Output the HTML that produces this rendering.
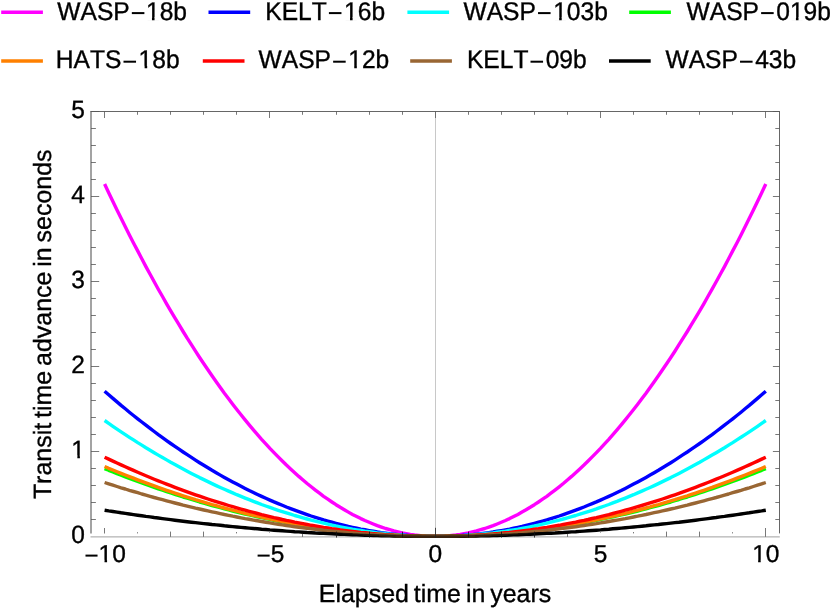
<!DOCTYPE html>
<html><head><meta charset="utf-8"><title>Transit time advance</title>
<style>
html,body{margin:0;padding:0;background:#fff;}
svg{display:block;will-change:transform;}
text{font-family:"Liberation Sans",sans-serif;fill:#000;font-kerning:none;text-rendering:geometricPrecision;stroke:#000;stroke-width:0.35px;}
.cv polyline{fill:none;stroke-width:3.4;stroke-linejoin:round;}
</style></head>
<body>
<svg width="830" height="609" viewBox="0 0 830 609">
<rect width="830" height="609" fill="#fff"/>
<!-- centre grid line -->
<line x1="435.5" y1="111.5" x2="435.5" y2="536.4" stroke="#c2c2c2" stroke-width="0.9"/>
<!-- bottom axis (light) -->
<line x1="90.5" y1="536.9" x2="779.8" y2="536.9" stroke="#a0a0a0" stroke-width="1"/>
<!-- curves -->
<g class="cv">
<polyline stroke="#ff00ff" points="104.6,184.0 108.7,192.7 112.9,201.4 117.0,209.9 121.1,218.3 125.3,226.7 129.4,234.9 133.5,243.0 137.7,250.9 141.8,258.8 145.9,266.6 150.1,274.2 154.2,281.8 158.3,289.2 162.5,296.5 166.6,303.8 170.7,310.9 174.9,317.9 179.0,324.7 183.1,331.5 187.2,338.2 191.4,344.7 195.5,351.2 199.6,357.5 203.8,363.7 207.9,369.8 212.0,375.8 216.2,381.7 220.3,387.5 224.4,393.2 228.6,398.7 232.7,404.2 236.8,409.5 241.0,414.8 245.1,419.9 249.2,424.9 253.4,429.8 257.5,434.6 261.6,439.3 265.8,443.8 269.9,448.3 274.0,452.6 278.2,456.9 282.3,461.0 286.4,465.0 290.6,468.9 294.7,472.7 298.8,476.4 303.0,480.0 307.1,483.5 311.2,486.8 315.4,490.1 319.5,493.2 323.6,496.3 327.8,499.2 331.9,502.0 336.0,504.7 340.2,507.3 344.3,509.7 348.4,512.1 352.5,514.4 356.7,516.5 360.8,518.6 364.9,520.5 369.1,522.3 373.2,524.0 377.3,525.6 381.5,527.1 385.6,528.5 389.7,529.7 393.9,530.9 398.0,531.9 402.1,532.9 406.3,533.7 410.4,534.4 414.5,535.0 418.7,535.5 422.8,535.9 426.9,536.2 431.1,536.3 435.2,536.4 439.3,536.3 443.5,536.2 447.6,535.9 451.7,535.5 455.9,535.0 460.0,534.4 464.1,533.7 468.3,532.9 472.4,531.9 476.5,530.9 480.7,529.7 484.8,528.5 488.9,527.1 493.1,525.6 497.2,524.0 501.3,522.3 505.5,520.5 509.6,518.6 513.7,516.5 517.9,514.4 522.0,512.1 526.1,509.7 530.2,507.3 534.4,504.7 538.5,502.0 542.6,499.2 546.8,496.3 550.9,493.2 555.0,490.1 559.2,486.8 563.3,483.5 567.4,480.0 571.6,476.4 575.7,472.7 579.8,468.9 584.0,465.0 588.1,461.0 592.2,456.9 596.4,452.6 600.5,448.3 604.6,443.8 608.8,439.3 612.9,434.6 617.0,429.8 621.2,424.9 625.3,419.9 629.4,414.8 633.6,409.5 637.7,404.2 641.8,398.7 646.0,393.2 650.1,387.5 654.2,381.7 658.4,375.8 662.5,369.8 666.6,363.7 670.8,357.5 674.9,351.2 679.0,344.7 683.1,338.2 687.3,331.5 691.4,324.7 695.5,317.9 699.7,310.9 703.8,303.8 707.9,296.5 712.1,289.2 716.2,281.8 720.3,274.2 724.5,266.6 728.6,258.8 732.7,250.9 736.9,243.0 741.0,234.9 745.1,226.7 749.3,218.3 753.4,209.9 757.5,201.4 761.7,192.7 765.8,184.0"/>
<polyline stroke="#0000ff" points="104.6,391.2 108.7,394.8 112.9,398.4 117.0,401.9 121.1,405.4 125.3,408.8 129.4,412.2 133.5,415.5 137.7,418.8 141.8,422.0 145.9,425.2 150.1,428.4 154.2,431.5 158.3,434.6 162.5,437.6 166.6,440.6 170.7,443.5 174.9,446.4 179.0,449.2 183.1,452.0 187.2,454.7 191.4,457.4 195.5,460.1 199.6,462.7 203.8,465.3 207.9,467.8 212.0,470.3 216.2,472.7 220.3,475.1 224.4,477.4 228.6,479.7 232.7,481.9 236.8,484.1 241.0,486.3 245.1,488.4 249.2,490.5 253.4,492.5 257.5,494.5 261.6,496.4 265.8,498.3 269.9,500.1 274.0,501.9 278.2,503.6 282.3,505.3 286.4,507.0 290.6,508.6 294.7,510.2 298.8,511.7 303.0,513.2 307.1,514.6 311.2,516.0 315.4,517.3 319.5,518.6 323.6,519.9 327.8,521.1 331.9,522.2 336.0,523.3 340.2,524.4 344.3,525.4 348.4,526.4 352.5,527.3 356.7,528.2 360.8,529.1 364.9,529.8 369.1,530.6 373.2,531.3 377.3,532.0 381.5,532.6 385.6,533.1 389.7,533.7 393.9,534.1 398.0,534.6 402.1,534.9 406.3,535.3 410.4,535.6 414.5,535.8 418.7,536.0 422.8,536.2 426.9,536.3 431.1,536.4 435.2,536.4 439.3,536.4 443.5,536.3 447.6,536.2 451.7,536.0 455.9,535.8 460.0,535.6 464.1,535.3 468.3,534.9 472.4,534.6 476.5,534.1 480.7,533.7 484.8,533.1 488.9,532.6 493.1,532.0 497.2,531.3 501.3,530.6 505.5,529.8 509.6,529.1 513.7,528.2 517.9,527.3 522.0,526.4 526.1,525.4 530.2,524.4 534.4,523.3 538.5,522.2 542.6,521.1 546.8,519.9 550.9,518.6 555.0,517.3 559.2,516.0 563.3,514.6 567.4,513.2 571.6,511.7 575.7,510.2 579.8,508.6 584.0,507.0 588.1,505.3 592.2,503.6 596.4,501.9 600.5,500.1 604.6,498.3 608.8,496.4 612.9,494.5 617.0,492.5 621.2,490.5 625.3,488.4 629.4,486.3 633.6,484.1 637.7,481.9 641.8,479.7 646.0,477.4 650.1,475.1 654.2,472.7 658.4,470.3 662.5,467.8 666.6,465.3 670.8,462.7 674.9,460.1 679.0,457.4 683.1,454.7 687.3,452.0 691.4,449.2 695.5,446.4 699.7,443.5 703.8,440.6 707.9,437.6 712.1,434.6 716.2,431.5 720.3,428.4 724.5,425.2 728.6,422.0 732.7,418.8 736.9,415.5 741.0,412.2 745.1,408.8 749.3,405.4 753.4,401.9 757.5,398.4 761.7,394.8 765.8,391.2"/>
<polyline stroke="#00ffff" points="104.6,420.5 108.7,423.4 112.9,426.3 117.0,429.1 121.1,431.8 125.3,434.6 129.4,437.3 133.5,439.9 137.7,442.6 141.8,445.1 145.9,447.7 150.1,450.2 154.2,452.7 158.3,455.1 162.5,457.5 166.6,459.9 170.7,462.3 174.9,464.6 179.0,466.8 183.1,469.0 187.2,471.2 191.4,473.4 195.5,475.5 199.6,477.6 203.8,479.6 207.9,481.6 212.0,483.6 216.2,485.6 220.3,487.5 224.4,489.3 228.6,491.1 232.7,492.9 236.8,494.7 241.0,496.4 245.1,498.1 249.2,499.7 253.4,501.4 257.5,502.9 261.6,504.5 265.8,506.0 269.9,507.4 274.0,508.9 278.2,510.3 282.3,511.6 286.4,512.9 290.6,514.2 294.7,515.5 298.8,516.7 303.0,517.9 307.1,519.0 311.2,520.1 315.4,521.2 319.5,522.2 323.6,523.2 327.8,524.2 331.9,525.1 336.0,526.0 340.2,526.8 344.3,527.6 348.4,528.4 352.5,529.2 356.7,529.9 360.8,530.5 364.9,531.2 369.1,531.8 373.2,532.3 377.3,532.9 381.5,533.3 385.6,533.8 389.7,534.2 393.9,534.6 398.0,534.9 402.1,535.2 406.3,535.5 410.4,535.7 414.5,535.9 418.7,536.1 422.8,536.2 426.9,536.3 431.1,536.4 435.2,536.4 439.3,536.4 443.5,536.3 447.6,536.2 451.7,536.1 455.9,535.9 460.0,535.7 464.1,535.5 468.3,535.2 472.4,534.9 476.5,534.6 480.7,534.2 484.8,533.8 488.9,533.3 493.1,532.9 497.2,532.3 501.3,531.8 505.5,531.2 509.6,530.5 513.7,529.9 517.9,529.2 522.0,528.4 526.1,527.6 530.2,526.8 534.4,526.0 538.5,525.1 542.6,524.2 546.8,523.2 550.9,522.2 555.0,521.2 559.2,520.1 563.3,519.0 567.4,517.9 571.6,516.7 575.7,515.5 579.8,514.2 584.0,512.9 588.1,511.6 592.2,510.3 596.4,508.9 600.5,507.4 604.6,506.0 608.8,504.5 612.9,502.9 617.0,501.4 621.2,499.7 625.3,498.1 629.4,496.4 633.6,494.7 637.7,492.9 641.8,491.1 646.0,489.3 650.1,487.5 654.2,485.6 658.4,483.6 662.5,481.6 666.6,479.6 670.8,477.6 674.9,475.5 679.0,473.4 683.1,471.2 687.3,469.0 691.4,466.8 695.5,464.6 699.7,462.3 703.8,459.9 707.9,457.5 712.1,455.1 716.2,452.7 720.3,450.2 724.5,447.7 728.6,445.1 732.7,442.6 736.9,439.9 741.0,437.3 745.1,434.6 749.3,431.8 753.4,429.1 757.5,426.3 761.7,423.4 765.8,420.5"/>
<polyline stroke="#00ff00" points="104.6,468.6 108.7,470.3 112.9,471.9 117.0,473.6 121.1,475.2 125.3,476.8 129.4,478.4 133.5,479.9 137.7,481.5 141.8,483.0 145.9,484.5 150.1,485.9 154.2,487.4 158.3,488.8 162.5,490.2 166.6,491.6 170.7,493.0 174.9,494.3 179.0,495.7 183.1,497.0 187.2,498.2 191.4,499.5 195.5,500.7 199.6,502.0 203.8,503.2 207.9,504.3 212.0,505.5 216.2,506.6 220.3,507.7 224.4,508.8 228.6,509.9 232.7,511.0 236.8,512.0 241.0,513.0 245.1,514.0 249.2,514.9 253.4,515.9 257.5,516.8 261.6,517.7 265.8,518.6 269.9,519.4 274.0,520.3 278.2,521.1 282.3,521.9 286.4,522.7 290.6,523.4 294.7,524.1 298.8,524.9 303.0,525.5 307.1,526.2 311.2,526.9 315.4,527.5 319.5,528.1 323.6,528.7 327.8,529.2 331.9,529.8 336.0,530.3 340.2,530.8 344.3,531.3 348.4,531.7 352.5,532.2 356.7,532.6 360.8,533.0 364.9,533.3 369.1,533.7 373.2,534.0 377.3,534.3 381.5,534.6 385.6,534.9 389.7,535.1 393.9,535.3 398.0,535.5 402.1,535.7 406.3,535.9 410.4,536.0 414.5,536.1 418.7,536.2 422.8,536.3 426.9,536.4 431.1,536.4 435.2,536.4 439.3,536.4 443.5,536.4 447.6,536.3 451.7,536.2 455.9,536.1 460.0,536.0 464.1,535.9 468.3,535.7 472.4,535.5 476.5,535.3 480.7,535.1 484.8,534.9 488.9,534.6 493.1,534.3 497.2,534.0 501.3,533.7 505.5,533.3 509.6,533.0 513.7,532.6 517.9,532.2 522.0,531.7 526.1,531.3 530.2,530.8 534.4,530.3 538.5,529.8 542.6,529.2 546.8,528.7 550.9,528.1 555.0,527.5 559.2,526.9 563.3,526.2 567.4,525.5 571.6,524.9 575.7,524.1 579.8,523.4 584.0,522.7 588.1,521.9 592.2,521.1 596.4,520.3 600.5,519.4 604.6,518.6 608.8,517.7 612.9,516.8 617.0,515.9 621.2,514.9 625.3,514.0 629.4,513.0 633.6,512.0 637.7,511.0 641.8,509.9 646.0,508.8 650.1,507.7 654.2,506.6 658.4,505.5 662.5,504.3 666.6,503.2 670.8,502.0 674.9,500.7 679.0,499.5 683.1,498.2 687.3,497.0 691.4,495.7 695.5,494.3 699.7,493.0 703.8,491.6 707.9,490.2 712.1,488.8 716.2,487.4 720.3,485.9 724.5,484.5 728.6,483.0 732.7,481.5 736.9,479.9 741.0,478.4 745.1,476.8 749.3,475.2 753.4,473.6 757.5,471.9 761.7,470.3 765.8,468.6"/>
<polyline stroke="#ff8000" points="104.6,466.5 108.7,468.3 112.9,470.0 117.0,471.7 121.1,473.3 125.3,475.0 129.4,476.6 133.5,478.2 137.7,479.8 141.8,481.4 145.9,482.9 150.1,484.4 154.2,485.9 158.3,487.4 162.5,488.8 166.6,490.3 170.7,491.7 174.9,493.1 179.0,494.4 183.1,495.8 187.2,497.1 191.4,498.4 195.5,499.7 199.6,500.9 203.8,502.2 207.9,503.4 212.0,504.6 216.2,505.7 220.3,506.9 224.4,508.0 228.6,509.1 232.7,510.2 236.8,511.2 241.0,512.3 245.1,513.3 249.2,514.3 253.4,515.3 257.5,516.2 261.6,517.1 265.8,518.0 269.9,518.9 274.0,519.8 278.2,520.6 282.3,521.5 286.4,522.3 290.6,523.0 294.7,523.8 298.8,524.5 303.0,525.2 307.1,525.9 311.2,526.6 315.4,527.2 319.5,527.8 323.6,528.4 327.8,529.0 331.9,529.6 336.0,530.1 340.2,530.6 344.3,531.1 348.4,531.6 352.5,532.0 356.7,532.5 360.8,532.9 364.9,533.2 369.1,533.6 373.2,533.9 377.3,534.3 381.5,534.6 385.6,534.8 389.7,535.1 393.9,535.3 398.0,535.5 402.1,535.7 406.3,535.9 410.4,536.0 414.5,536.1 418.7,536.2 422.8,536.3 426.9,536.4 431.1,536.4 435.2,536.4 439.3,536.4 443.5,536.4 447.6,536.3 451.7,536.2 455.9,536.1 460.0,536.0 464.1,535.9 468.3,535.7 472.4,535.5 476.5,535.3 480.7,535.1 484.8,534.8 488.9,534.6 493.1,534.3 497.2,533.9 501.3,533.6 505.5,533.2 509.6,532.9 513.7,532.5 517.9,532.0 522.0,531.6 526.1,531.1 530.2,530.6 534.4,530.1 538.5,529.6 542.6,529.0 546.8,528.4 550.9,527.8 555.0,527.2 559.2,526.6 563.3,525.9 567.4,525.2 571.6,524.5 575.7,523.8 579.8,523.0 584.0,522.3 588.1,521.5 592.2,520.6 596.4,519.8 600.5,518.9 604.6,518.0 608.8,517.1 612.9,516.2 617.0,515.3 621.2,514.3 625.3,513.3 629.4,512.3 633.6,511.2 637.7,510.2 641.8,509.1 646.0,508.0 650.1,506.9 654.2,505.7 658.4,504.6 662.5,503.4 666.6,502.2 670.8,500.9 674.9,499.7 679.0,498.4 683.1,497.1 687.3,495.8 691.4,494.4 695.5,493.1 699.7,491.7 703.8,490.3 707.9,488.8 712.1,487.4 716.2,485.9 720.3,484.4 724.5,482.9 728.6,481.4 732.7,479.8 736.9,478.2 741.0,476.6 745.1,475.0 749.3,473.3 753.4,471.7 757.5,470.0 761.7,468.3 765.8,466.5"/>
<polyline stroke="#ff0000" points="104.6,457.2 108.7,459.1 112.9,461.1 117.0,463.0 121.1,464.9 125.3,466.8 129.4,468.6 133.5,470.4 137.7,472.2 141.8,474.0 145.9,475.7 150.1,477.5 154.2,479.2 158.3,480.8 162.5,482.5 166.6,484.1 170.7,485.7 174.9,487.3 179.0,488.8 183.1,490.3 187.2,491.8 191.4,493.3 195.5,494.8 199.6,496.2 203.8,497.6 207.9,499.0 212.0,500.3 216.2,501.6 220.3,502.9 224.4,504.2 228.6,505.5 232.7,506.7 236.8,507.9 241.0,509.1 245.1,510.2 249.2,511.3 253.4,512.4 257.5,513.5 261.6,514.6 265.8,515.6 269.9,516.6 274.0,517.6 278.2,518.5 282.3,519.5 286.4,520.4 290.6,521.2 294.7,522.1 298.8,522.9 303.0,523.7 307.1,524.5 311.2,525.3 315.4,526.0 319.5,526.7 323.6,527.4 327.8,528.0 331.9,528.7 336.0,529.3 340.2,529.9 344.3,530.4 348.4,530.9 352.5,531.4 356.7,531.9 360.8,532.4 364.9,532.8 369.1,533.2 373.2,533.6 377.3,534.0 381.5,534.3 385.6,534.6 389.7,534.9 393.9,535.2 398.0,535.4 402.1,535.6 406.3,535.8 410.4,536.0 414.5,536.1 418.7,536.2 422.8,536.3 426.9,536.4 431.1,536.4 435.2,536.4 439.3,536.4 443.5,536.4 447.6,536.3 451.7,536.2 455.9,536.1 460.0,536.0 464.1,535.8 468.3,535.6 472.4,535.4 476.5,535.2 480.7,534.9 484.8,534.6 488.9,534.3 493.1,534.0 497.2,533.6 501.3,533.2 505.5,532.8 509.6,532.4 513.7,531.9 517.9,531.4 522.0,530.9 526.1,530.4 530.2,529.9 534.4,529.3 538.5,528.7 542.6,528.0 546.8,527.4 550.9,526.7 555.0,526.0 559.2,525.3 563.3,524.5 567.4,523.7 571.6,522.9 575.7,522.1 579.8,521.2 584.0,520.4 588.1,519.5 592.2,518.5 596.4,517.6 600.5,516.6 604.6,515.6 608.8,514.6 612.9,513.5 617.0,512.4 621.2,511.3 625.3,510.2 629.4,509.1 633.6,507.9 637.7,506.7 641.8,505.5 646.0,504.2 650.1,502.9 654.2,501.6 658.4,500.3 662.5,499.0 666.6,497.6 670.8,496.2 674.9,494.8 679.0,493.3 683.1,491.8 687.3,490.3 691.4,488.8 695.5,487.3 699.7,485.7 703.8,484.1 707.9,482.5 712.1,480.8 716.2,479.2 720.3,477.5 724.5,475.7 728.6,474.0 732.7,472.2 736.9,470.4 741.0,468.6 745.1,466.8 749.3,464.9 753.4,463.0 757.5,461.1 761.7,459.1 765.8,457.2"/>
<polyline stroke="#996633" points="104.6,482.5 108.7,483.8 112.9,485.2 117.0,486.5 121.1,487.8 125.3,489.0 129.4,490.3 133.5,491.5 137.7,492.7 141.8,494.0 145.9,495.1 150.1,496.3 154.2,497.5 158.3,498.6 162.5,499.7 166.6,500.8 170.7,501.9 174.9,503.0 179.0,504.0 183.1,505.1 187.2,506.1 191.4,507.1 195.5,508.1 199.6,509.0 203.8,510.0 207.9,510.9 212.0,511.8 216.2,512.7 220.3,513.6 224.4,514.5 228.6,515.3 232.7,516.2 236.8,517.0 241.0,517.8 245.1,518.6 249.2,519.3 253.4,520.1 257.5,520.8 261.6,521.5 265.8,522.2 269.9,522.9 274.0,523.6 278.2,524.2 282.3,524.9 286.4,525.5 290.6,526.1 294.7,526.7 298.8,527.2 303.0,527.8 307.1,528.3 311.2,528.8 315.4,529.3 319.5,529.8 323.6,530.3 327.8,530.7 331.9,531.1 336.0,531.5 340.2,531.9 344.3,532.3 348.4,532.7 352.5,533.0 356.7,533.4 360.8,533.7 364.9,534.0 369.1,534.2 373.2,534.5 377.3,534.7 381.5,535.0 385.6,535.2 389.7,535.4 393.9,535.6 398.0,535.7 402.1,535.9 406.3,536.0 410.4,536.1 414.5,536.2 418.7,536.3 422.8,536.3 426.9,536.4 431.1,536.4 435.2,536.4 439.3,536.4 443.5,536.4 447.6,536.3 451.7,536.3 455.9,536.2 460.0,536.1 464.1,536.0 468.3,535.9 472.4,535.7 476.5,535.6 480.7,535.4 484.8,535.2 488.9,535.0 493.1,534.7 497.2,534.5 501.3,534.2 505.5,534.0 509.6,533.7 513.7,533.4 517.9,533.0 522.0,532.7 526.1,532.3 530.2,531.9 534.4,531.5 538.5,531.1 542.6,530.7 546.8,530.3 550.9,529.8 555.0,529.3 559.2,528.8 563.3,528.3 567.4,527.8 571.6,527.2 575.7,526.7 579.8,526.1 584.0,525.5 588.1,524.9 592.2,524.2 596.4,523.6 600.5,522.9 604.6,522.2 608.8,521.5 612.9,520.8 617.0,520.1 621.2,519.3 625.3,518.6 629.4,517.8 633.6,517.0 637.7,516.2 641.8,515.3 646.0,514.5 650.1,513.6 654.2,512.7 658.4,511.8 662.5,510.9 666.6,510.0 670.8,509.0 674.9,508.1 679.0,507.1 683.1,506.1 687.3,505.1 691.4,504.0 695.5,503.0 699.7,501.9 703.8,500.8 707.9,499.7 712.1,498.6 716.2,497.5 720.3,496.3 724.5,495.1 728.6,494.0 732.7,492.7 736.9,491.5 741.0,490.3 745.1,489.0 749.3,487.8 753.4,486.5 757.5,485.2 761.7,483.8 765.8,482.5"/>
<polyline stroke="#000000" points="104.6,510.2 108.7,510.9 112.9,511.5 117.0,512.1 121.1,512.8 125.3,513.4 129.4,514.0 133.5,514.6 137.7,515.2 141.8,515.8 145.9,516.4 150.1,516.9 154.2,517.5 158.3,518.0 162.5,518.6 166.6,519.1 170.7,519.6 174.9,520.2 179.0,520.7 183.1,521.2 187.2,521.7 191.4,522.2 195.5,522.6 199.6,523.1 203.8,523.6 207.9,524.0 212.0,524.5 216.2,524.9 220.3,525.3 224.4,525.8 228.6,526.2 232.7,526.6 236.8,527.0 241.0,527.4 245.1,527.7 249.2,528.1 253.4,528.5 257.5,528.8 261.6,529.2 265.8,529.5 269.9,529.9 274.0,530.2 278.2,530.5 282.3,530.8 286.4,531.1 290.6,531.4 294.7,531.7 298.8,531.9 303.0,532.2 307.1,532.5 311.2,532.7 315.4,533.0 319.5,533.2 323.6,533.4 327.8,533.6 331.9,533.8 336.0,534.0 340.2,534.2 344.3,534.4 348.4,534.6 352.5,534.8 356.7,534.9 360.8,535.1 364.9,535.2 369.1,535.4 373.2,535.5 377.3,535.6 381.5,535.7 385.6,535.8 389.7,535.9 393.9,536.0 398.0,536.1 402.1,536.1 406.3,536.2 410.4,536.3 414.5,536.3 418.7,536.3 422.8,536.4 426.9,536.4 431.1,536.4 435.2,536.4 439.3,536.4 443.5,536.4 447.6,536.4 451.7,536.3 455.9,536.3 460.0,536.3 464.1,536.2 468.3,536.1 472.4,536.1 476.5,536.0 480.7,535.9 484.8,535.8 488.9,535.7 493.1,535.6 497.2,535.5 501.3,535.4 505.5,535.2 509.6,535.1 513.7,534.9 517.9,534.8 522.0,534.6 526.1,534.4 530.2,534.2 534.4,534.0 538.5,533.8 542.6,533.6 546.8,533.4 550.9,533.2 555.0,533.0 559.2,532.7 563.3,532.5 567.4,532.2 571.6,531.9 575.7,531.7 579.8,531.4 584.0,531.1 588.1,530.8 592.2,530.5 596.4,530.2 600.5,529.9 604.6,529.5 608.8,529.2 612.9,528.8 617.0,528.5 621.2,528.1 625.3,527.7 629.4,527.4 633.6,527.0 637.7,526.6 641.8,526.2 646.0,525.8 650.1,525.3 654.2,524.9 658.4,524.5 662.5,524.0 666.6,523.6 670.8,523.1 674.9,522.6 679.0,522.2 683.1,521.7 687.3,521.2 691.4,520.7 695.5,520.2 699.7,519.6 703.8,519.1 707.9,518.6 712.1,518.0 716.2,517.5 720.3,516.9 724.5,516.4 728.6,515.8 732.7,515.2 736.9,514.6 741.0,514.0 745.1,513.4 749.3,512.8 753.4,512.1 757.5,511.5 761.7,510.9 765.8,510.2"/>
<polyline stroke="#996633" stroke-opacity="0.08" points="322.8,530.2 328.4,530.8 334.0,531.4 339.7,531.9 345.3,532.4 350.9,532.9 356.5,533.3 362.1,533.8 367.8,534.2 373.4,534.5 379.0,534.8 384.6,535.1 390.2,535.4 395.9,535.6 401.5,535.8 407.1,536.0 412.7,536.2 418.3,536.3 424.0,536.3 429.6,536.4 435.2,536.4 440.8,536.4 446.4,536.3 452.1,536.3 457.7,536.2 463.3,536.0 468.9,535.8 474.5,535.6 480.2,535.4 485.8,535.1 491.4,534.8 497.0,534.5 502.6,534.2 508.3,533.8 513.9,533.3 519.5,532.9 525.1,532.4 530.7,531.9 536.4,531.4 542.0,530.8 547.6,530.2"/>
<polyline stroke="#996633" stroke-opacity="0.08" points="342.6,532.2 347.3,532.6 351.9,533.0 356.5,533.3 361.1,533.7 365.8,534.0 370.4,534.3 375.0,534.6 379.7,534.9 384.3,535.1 388.9,535.3 393.5,535.5 398.2,535.7 402.8,535.9 407.4,536.0 412.1,536.1 416.7,536.2 421.3,536.3 425.9,536.4 430.6,536.4 435.2,536.4 439.8,536.4 444.5,536.4 449.1,536.3 453.7,536.2 458.3,536.1 463.0,536.0 467.6,535.9 472.2,535.7 476.9,535.5 481.5,535.3 486.1,535.1 490.7,534.9 495.4,534.6 500.0,534.3 504.6,534.0 509.3,533.7 513.9,533.3 518.5,533.0 523.1,532.6 527.8,532.2"/>
<polyline stroke="#996633" stroke-opacity="0.09" points="362.5,533.8 366.1,534.0 369.7,534.3 373.4,534.5 377.0,534.7 380.7,534.9 384.3,535.1 387.9,535.3 391.6,535.5 395.2,535.6 398.8,535.7 402.5,535.9 406.1,536.0 409.7,536.1 413.4,536.2 417.0,536.2 420.7,536.3 424.3,536.3 427.9,536.4 431.6,536.4 435.2,536.4 438.8,536.4 442.5,536.4 446.1,536.3 449.7,536.3 453.4,536.2 457.0,536.2 460.7,536.1 464.3,536.0 467.9,535.9 471.6,535.7 475.2,535.6 478.8,535.5 482.5,535.3 486.1,535.1 489.7,534.9 493.4,534.7 497.0,534.5 500.7,534.3 504.3,534.0 507.9,533.8"/>
<polyline stroke="#996633" stroke-opacity="0.1" points="379.0,534.8 381.8,535.0 384.6,535.1 387.4,535.3 390.2,535.4 393.0,535.5 395.9,535.6 398.7,535.7 401.5,535.8 404.3,535.9 407.1,536.0 409.9,536.1 412.7,536.2 415.5,536.2 418.3,536.3 421.1,536.3 424.0,536.3 426.8,536.4 429.6,536.4 432.4,536.4 435.2,536.4 438.0,536.4 440.8,536.4 443.6,536.4 446.4,536.3 449.3,536.3 452.1,536.3 454.9,536.2 457.7,536.2 460.5,536.1 463.3,536.0 466.1,535.9 468.9,535.8 471.7,535.7 474.5,535.6 477.4,535.5 480.2,535.4 483.0,535.3 485.8,535.1 488.6,535.0 491.4,534.8"/>
<polyline stroke="#996633" stroke-opacity="0.1" points="395.5,535.6 397.5,535.7 399.5,535.8 401.5,535.8 403.5,535.9 405.4,536.0 407.4,536.0 409.4,536.1 411.4,536.1 413.4,536.2 415.4,536.2 417.3,536.2 419.3,536.3 421.3,536.3 423.3,536.3 425.3,536.4 427.3,536.4 429.2,536.4 431.2,536.4 433.2,536.4 435.2,536.4 437.2,536.4 439.2,536.4 441.2,536.4 443.1,536.4 445.1,536.4 447.1,536.3 449.1,536.3 451.1,536.3 453.1,536.2 455.0,536.2 457.0,536.2 459.0,536.1 461.0,536.1 463.0,536.0 465.0,536.0 466.9,535.9 468.9,535.8 470.9,535.8 472.9,535.7 474.9,535.6"/>
<polyline stroke="#996633" stroke-opacity="0.55" style="stroke-width:0.9" points="336.0,531.7 341.0,532.0 345.9,532.3 350.9,532.6 355.9,532.9 360.8,533.2 365.8,533.4 370.7,533.6 375.7,533.9 380.7,534.1 385.6,534.2 390.6,534.4 395.5,534.5 400.5,534.7 405.4,534.8 410.4,534.9 415.4,535.0 420.3,535.0 425.3,535.1 430.2,535.1 435.2,535.1 440.2,535.1 445.1,535.1 450.1,535.0 455.0,535.0 460.0,534.9 465.0,534.8 469.9,534.7 474.9,534.5 479.8,534.4 484.8,534.2 489.7,534.1 494.7,533.9 499.7,533.6 504.6,533.4 509.6,533.2 514.5,532.9 519.5,532.6 524.5,532.3 529.4,532.0 534.4,531.7"/>
</g>
<!-- frame -->
<g stroke="#666666" fill="none">
<path d="M91.0 533.4V111.0" stroke-width="1.2"/>
<path d="M90.5 111.5H780.0" stroke-width="1"/>
<path d="M779.5 111.5V533.4" stroke-width="1"/>
<g stroke="#555" stroke-width="0.8">
<line x1="104.5" y1="533.5" x2="104.5" y2="528.0"/>
<line x1="104.5" y1="111.5" x2="104.5" y2="118.0"/>
<line x1="137.5" y1="533.4" x2="137.5" y2="532.2"/>
<line x1="137.5" y1="111.5" x2="137.5" y2="114.8"/>
<line x1="170.5" y1="536.8" x2="170.5" y2="531.6"/>
<line x1="170.5" y1="111.5" x2="170.5" y2="114.8"/>
<line x1="203.5" y1="536.8" x2="203.5" y2="531.6"/>
<line x1="203.5" y1="111.5" x2="203.5" y2="114.8"/>
<line x1="236.5" y1="533.4" x2="236.5" y2="532.0"/>
<line x1="236.5" y1="111.5" x2="236.5" y2="114.8"/>
<line x1="269.5" y1="533.0" x2="269.5" y2="531.8" stroke="#999"/>
<line x1="269.5" y1="111.5" x2="269.5" y2="118.0"/>
<line x1="302.5" y1="536.9" x2="302.5" y2="533.8"/>
<line x1="302.5" y1="111.5" x2="302.5" y2="114.8"/>
<line x1="336.5" y1="537.6" x2="336.5" y2="531.6" stroke="#111"/>
<line x1="336.5" y1="111.5" x2="336.5" y2="114.8"/>
<line x1="369.5" y1="537.6" x2="369.5" y2="531.6" stroke="#111"/>
<line x1="369.5" y1="111.5" x2="369.5" y2="114.8"/>
<line x1="402.5" y1="537.6" x2="402.5" y2="531.6" stroke="#111"/>
<line x1="402.5" y1="111.5" x2="402.5" y2="114.8"/>
<line x1="435.5" y1="538.0" x2="435.5" y2="527.8" stroke="#222"/>
<line x1="435.5" y1="111.5" x2="435.5" y2="118.0"/>
<line x1="468.5" y1="537.6" x2="468.5" y2="531.6" stroke="#111"/>
<line x1="468.5" y1="111.5" x2="468.5" y2="114.8"/>
<line x1="501.5" y1="537.6" x2="501.5" y2="531.6" stroke="#111"/>
<line x1="501.5" y1="111.5" x2="501.5" y2="114.8"/>
<line x1="534.5" y1="537.6" x2="534.5" y2="531.6" stroke="#111"/>
<line x1="534.5" y1="111.5" x2="534.5" y2="114.8"/>
<line x1="567.5" y1="536.9" x2="567.5" y2="533.8"/>
<line x1="567.5" y1="111.5" x2="567.5" y2="114.8"/>
<line x1="600.5" y1="533.0" x2="600.5" y2="531.8" stroke="#999"/>
<line x1="600.5" y1="111.5" x2="600.5" y2="118.0"/>
<line x1="633.5" y1="533.4" x2="633.5" y2="532.0"/>
<line x1="633.5" y1="111.5" x2="633.5" y2="114.8"/>
<line x1="666.5" y1="536.8" x2="666.5" y2="531.6"/>
<line x1="666.5" y1="111.5" x2="666.5" y2="114.8"/>
<line x1="699.5" y1="536.8" x2="699.5" y2="531.6"/>
<line x1="699.5" y1="111.5" x2="699.5" y2="114.8"/>
<line x1="732.5" y1="533.4" x2="732.5" y2="532.2"/>
<line x1="732.5" y1="111.5" x2="732.5" y2="114.8"/>
<line x1="765.5" y1="536.8" x2="765.5" y2="528.0"/>
<line x1="765.5" y1="111.5" x2="765.5" y2="118.0"/>
<line x1="91.0" y1="519.5" x2="95.9" y2="519.5"/>
<line x1="779.5" y1="519.5" x2="775.3" y2="519.5"/>
<line x1="91.0" y1="502.5" x2="95.9" y2="502.5"/>
<line x1="779.5" y1="502.5" x2="775.3" y2="502.5"/>
<line x1="91.0" y1="485.5" x2="95.9" y2="485.5"/>
<line x1="779.5" y1="485.5" x2="775.3" y2="485.5"/>
<line x1="91.0" y1="468.5" x2="95.9" y2="468.5"/>
<line x1="779.5" y1="468.5" x2="775.3" y2="468.5"/>
<line x1="91.0" y1="451.5" x2="99.2" y2="451.5"/>
<line x1="779.5" y1="451.5" x2="772.9" y2="451.5"/>
<line x1="91.0" y1="434.5" x2="95.9" y2="434.5"/>
<line x1="779.5" y1="434.5" x2="775.3" y2="434.5"/>
<line x1="91.0" y1="417.5" x2="95.9" y2="417.5"/>
<line x1="779.5" y1="417.5" x2="775.3" y2="417.5"/>
<line x1="91.0" y1="400.5" x2="95.9" y2="400.5"/>
<line x1="779.5" y1="400.5" x2="775.3" y2="400.5"/>
<line x1="91.0" y1="383.5" x2="95.9" y2="383.5"/>
<line x1="779.5" y1="383.5" x2="775.3" y2="383.5"/>
<line x1="91.0" y1="366.5" x2="99.2" y2="366.5"/>
<line x1="779.5" y1="366.5" x2="772.9" y2="366.5"/>
<line x1="91.0" y1="349.5" x2="95.9" y2="349.5"/>
<line x1="779.5" y1="349.5" x2="775.3" y2="349.5"/>
<line x1="91.0" y1="332.5" x2="95.9" y2="332.5"/>
<line x1="779.5" y1="332.5" x2="775.3" y2="332.5"/>
<line x1="91.0" y1="315.5" x2="95.9" y2="315.5"/>
<line x1="779.5" y1="315.5" x2="775.3" y2="315.5"/>
<line x1="91.0" y1="298.5" x2="95.9" y2="298.5"/>
<line x1="779.5" y1="298.5" x2="775.3" y2="298.5"/>
<line x1="91.0" y1="281.5" x2="99.2" y2="281.5"/>
<line x1="779.5" y1="281.5" x2="772.9" y2="281.5"/>
<line x1="91.0" y1="264.5" x2="95.9" y2="264.5"/>
<line x1="779.5" y1="264.5" x2="775.3" y2="264.5"/>
<line x1="91.0" y1="247.5" x2="95.9" y2="247.5"/>
<line x1="779.5" y1="247.5" x2="775.3" y2="247.5"/>
<line x1="91.0" y1="230.5" x2="95.9" y2="230.5"/>
<line x1="779.5" y1="230.5" x2="775.3" y2="230.5"/>
<line x1="91.0" y1="213.5" x2="95.9" y2="213.5"/>
<line x1="779.5" y1="213.5" x2="775.3" y2="213.5"/>
<line x1="91.0" y1="196.5" x2="99.2" y2="196.5"/>
<line x1="779.5" y1="196.5" x2="772.9" y2="196.5"/>
<line x1="91.0" y1="179.5" x2="95.9" y2="179.5"/>
<line x1="779.5" y1="179.5" x2="775.3" y2="179.5"/>
<line x1="91.0" y1="162.5" x2="95.9" y2="162.5"/>
<line x1="779.5" y1="162.5" x2="775.3" y2="162.5"/>
<line x1="91.0" y1="145.5" x2="95.9" y2="145.5"/>
<line x1="779.5" y1="145.5" x2="775.3" y2="145.5"/>
<line x1="91.0" y1="128.5" x2="95.9" y2="128.5"/>
<line x1="779.5" y1="128.5" x2="775.3" y2="128.5"/>
<line x1="91.0" y1="111.5" x2="99.2" y2="111.5"/>
<line x1="779.5" y1="111.5" x2="772.9" y2="111.5"/>
</g>
</g>
<!-- tick labels -->
<text transform="translate(85.00,542.80) scale(1,1.02)" text-anchor="end" font-size="24.5">0</text>
<text transform="translate(85.00,457.80) scale(1,1.02)" text-anchor="end" font-size="24.5">1</text><rect x="72.04" y="455.43" width="5.29" height="3.57" fill="#fff"/><rect x="79.90" y="455.43" width="5.10" height="3.57" fill="#fff"/>
<text transform="translate(85.00,372.80) scale(1,1.02)" text-anchor="end" font-size="24.5">2</text>
<text transform="translate(85.00,287.80) scale(1,1.02)" text-anchor="end" font-size="24.5">3</text>
<text transform="translate(85.00,202.80) scale(1,1.02)" text-anchor="end" font-size="24.5">4</text>
<text transform="translate(85.00,117.80) scale(1,1.02)" text-anchor="end" font-size="24.5">5</text>
<rect x="85.49" y="554.60" width="12.05" height="2" fill="#000"/><text transform="translate(98.55,562.20) scale(1,1.0)" text-anchor="start" font-size="24.5">10</text><rect x="99.22" y="559.87" width="5.29" height="3.53" fill="#fff"/><rect x="107.07" y="559.87" width="5.10" height="3.53" fill="#fff"/>
<rect x="257.60" y="554.60" width="12.05" height="2" fill="#000"/><text transform="translate(270.66,562.20) scale(1,1.0)" text-anchor="start" font-size="24.5">5</text>
<text transform="translate(435.20,562.20) scale(1,1.0)" text-anchor="middle" font-size="24.5">0</text>
<text transform="translate(600.50,562.20) scale(1,1.0)" text-anchor="middle" font-size="24.5">5</text>
<text transform="translate(765.80,562.20) scale(1,1.0)" text-anchor="middle" font-size="24.5">10</text><rect x="752.84" y="559.87" width="5.29" height="3.53" fill="#fff"/><rect x="760.70" y="559.87" width="5.10" height="3.53" fill="#fff"/>
<!-- axis labels -->
<text x="435" y="601.5" text-anchor="middle" font-size="24.95" word-spacing="-2.0">Elapsed time in years</text>
<text transform="translate(51.2,324.3) rotate(-90)" text-anchor="middle" font-size="24.95" word-spacing="-2.0">Transit time advance in seconds</text>
<!-- legend -->
<line x1="1.2" y1="12.3" x2="42.9" y2="12.3" stroke="#ff00ff" stroke-width="3.4"/>
<text transform="translate(57.30,19.70) scale(1,1.04)" text-anchor="start" font-size="24.6">WASP</text><rect x="131.83" y="12.10" width="12.55" height="2" fill="#000"/><text transform="translate(145.98,19.70) scale(1,1.04)" text-anchor="start" font-size="24.6">18b</text><rect x="146.65" y="17.29" width="5.31" height="3.61" fill="#fff"/><rect x="154.54" y="17.29" width="5.12" height="3.61" fill="#fff"/>
<line x1="208.5" y1="12.3" x2="250.2" y2="12.3" stroke="#0000ff" stroke-width="3.4"/>
<text transform="translate(265.30,19.70) scale(1,1.04)" text-anchor="start" font-size="24.6">KELT</text><rect x="328.91" y="12.10" width="12.55" height="2" fill="#000"/><text transform="translate(344.04,19.70) scale(1,1.04)" text-anchor="start" font-size="24.6">16b</text><rect x="344.71" y="17.29" width="5.31" height="3.61" fill="#fff"/><rect x="352.60" y="17.29" width="5.12" height="3.61" fill="#fff"/>
<line x1="407.4" y1="12.3" x2="449.1" y2="12.3" stroke="#00ffff" stroke-width="3.4"/>
<text transform="translate(463.50,19.70) scale(1,1.04)" text-anchor="start" font-size="24.6">WASP</text><rect x="538.03" y="12.10" width="12.55" height="2" fill="#000"/><text transform="translate(553.16,19.70) scale(1,1.04)" text-anchor="start" font-size="24.6">103b</text><rect x="553.84" y="17.29" width="5.31" height="3.61" fill="#fff"/><rect x="561.72" y="17.29" width="5.12" height="3.61" fill="#fff"/>
<line x1="629.2" y1="12.3" x2="670.9" y2="12.3" stroke="#00ff00" stroke-width="3.4"/>
<text transform="translate(686.60,19.70) scale(1,1.04)" text-anchor="start" font-size="24.6">WASP</text><rect x="761.13" y="12.10" width="12.55" height="2" fill="#000"/><text transform="translate(776.26,19.70) scale(1,1.04)" text-anchor="start" font-size="24.6">019b</text><rect x="790.62" y="17.29" width="5.31" height="3.61" fill="#fff"/><rect x="798.50" y="17.29" width="5.12" height="3.61" fill="#fff"/>
<line x1="1.2" y1="61.0" x2="42.9" y2="61.0" stroke="#ff8000" stroke-width="3.4"/>
<text transform="translate(55.80,68.30) scale(1,1.04)" text-anchor="start" font-size="24.6">HATS</text><rect x="123.49" y="60.70" width="12.55" height="2" fill="#000"/><text transform="translate(138.62,68.30) scale(1,1.04)" text-anchor="start" font-size="24.6">18b</text><rect x="139.30" y="65.89" width="5.31" height="3.61" fill="#fff"/><rect x="147.18" y="65.89" width="5.12" height="3.61" fill="#fff"/>
<line x1="202.8" y1="61.0" x2="244.5" y2="61.0" stroke="#ff0000" stroke-width="3.4"/>
<text transform="translate(258.60,68.30) scale(1,1.04)" text-anchor="start" font-size="24.6">WASP</text><rect x="333.13" y="60.70" width="12.55" height="2" fill="#000"/><text transform="translate(348.26,68.30) scale(1,1.04)" text-anchor="start" font-size="24.6">12b</text><rect x="348.94" y="65.89" width="5.31" height="3.61" fill="#fff"/><rect x="356.82" y="65.89" width="5.12" height="3.61" fill="#fff"/>
<line x1="410.2" y1="61.0" x2="451.9" y2="61.0" stroke="#996633" stroke-width="3.4"/>
<text transform="translate(466.90,68.30) scale(1,1.04)" text-anchor="start" font-size="24.6">KELT</text><rect x="530.51" y="60.70" width="12.55" height="2" fill="#000"/><text transform="translate(545.64,68.30) scale(1,1.04)" text-anchor="start" font-size="24.6">09b</text>
<line x1="609.0" y1="61.0" x2="650.7" y2="61.0" stroke="#000000" stroke-width="3.4"/>
<text transform="translate(665.50,68.30) scale(1,1.04)" text-anchor="start" font-size="24.6">WASP</text><rect x="740.03" y="60.70" width="12.55" height="2" fill="#000"/><text transform="translate(755.16,68.30) scale(1,1.04)" text-anchor="start" font-size="24.6">43b</text>
</svg>
</body></html>
